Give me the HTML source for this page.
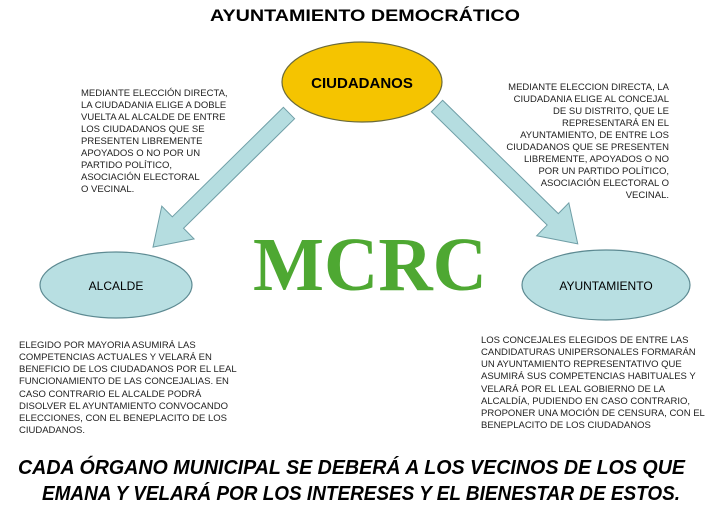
<!DOCTYPE html>
<html><head><meta charset="utf-8"><style>
html,body{margin:0;padding:0;background:#fff;}
svg{display:block;font-family:"Liberation Sans",Arial,sans-serif;}
</style></head><body>
<svg width="720" height="506" viewBox="0 0 720 506" xmlns="http://www.w3.org/2000/svg">
<text x="365" y="21" font-size="17" font-weight="bold" text-anchor="middle" fill="#000" textLength="310" lengthAdjust="spacingAndGlyphs">AYUNTAMIENTO DEMOCRÁTICO</text>

<!-- arrows -->
<g transform="translate(289,113) rotate(135.4)">
<polygon points="0,-8 156,-8 156,-23 191,0 156,23 156,8 0,8" fill="#b5dde0" stroke="#6f9ea6" stroke-width="1"/>
</g>
<g transform="translate(437,106) rotate(44.4)">
<polygon points="0,-8 162,-8 162,-23 197,0 162,23 162,8 0,8" fill="#b5dde0" stroke="#6f9ea6" stroke-width="1"/>
</g>

<ellipse cx="362" cy="82" rx="80" ry="40" fill="#f5c400" stroke="#6a6a3a" stroke-width="1.2"/>
<text x="362" y="88" font-size="15" font-weight="bold" text-anchor="middle">CIUDADANOS</text>

<ellipse cx="116" cy="285" rx="76" ry="33" fill="#b8dfe2" stroke="#5d8a92" stroke-width="1.2"/>
<text x="116" y="290" font-size="12" text-anchor="middle">ALCALDE</text>

<ellipse cx="606" cy="285" rx="84" ry="35" fill="#b8dfe2" stroke="#5d8a92" stroke-width="1.2"/>
<text x="606" y="290" font-size="12" text-anchor="middle">AYUNTAMIENTO</text>

<text x="370" y="290" font-family="'Liberation Serif',serif" font-size="76" font-weight="bold" fill="#4ea832" text-anchor="middle" textLength="234" lengthAdjust="spacingAndGlyphs">MCRC</text>

<g font-size="9.5" fill="#222">
<text x="81" y="96">MEDIANTE ELECCIÓN DIRECTA,</text>
<text x="81" y="108">LA CIUDADANIA ELIGE A  DOBLE</text>
<text x="81" y="120">VUELTA AL ALCALDE DE ENTRE</text>
<text x="81" y="132">LOS CIUDADANOS QUE SE</text>
<text x="81" y="144">PRESENTEN LIBREMENTE</text>
<text x="81" y="156">APOYADOS O NO POR UN</text>
<text x="81" y="168">PARTIDO POLÍTICO,</text>
<text x="81" y="180">ASOCIACIÓN ELECTORAL</text>
<text x="81" y="192">O VECINAL.</text>
</g>
<g font-size="9.5" fill="#222" text-anchor="end">
<text x="669" y="90">MEDIANTE ELECCION DIRECTA, LA</text>
<text x="669" y="102">CIUDADANIA ELIGE AL CONCEJAL</text>
<text x="669" y="114">DE SU DISTRITO, QUE LE</text>
<text x="669" y="126">REPRESENTARÁ EN EL</text>
<text x="669" y="138">AYUNTAMIENTO, DE ENTRE LOS</text>
<text x="669" y="150">CIUDADANOS QUE SE PRESENTEN</text>
<text x="669" y="162">LIBREMENTE, APOYADOS O NO</text>
<text x="669" y="174">POR UN PARTIDO POLÍTICO,</text>
<text x="669" y="186">ASOCIACIÓN ELECTORAL O</text>
<text x="669" y="198">VECINAL.</text>
</g>
<g font-size="9.5" fill="#222">
<text x="19" y="348">ELEGIDO POR MAYORIA ASUMIRÁ LAS</text>
<text x="19" y="360">COMPETENCIAS ACTUALES Y VELARÁ EN</text>
<text x="19" y="372">BENEFICIO DE LOS CIUDADANOS POR EL LEAL</text>
<text x="19" y="384">FUNCIONAMIENTO DE LAS CONCEJALIAS. EN</text>
<text x="19" y="397">CASO CONTRARIO EL ALCALDE PODRÁ</text>
<text x="19" y="409">DISOLVER EL AYUNTAMIENTO CONVOCANDO</text>
<text x="19" y="421">ELECCIONES, CON EL BENEPLACITO DE LOS</text>
<text x="19" y="433">CIUDADANOS.</text>
</g>
<g font-size="9.5" fill="#222">
<text x="481" y="343">LOS CONCEJALES ELEGIDOS DE ENTRE LAS</text>
<text x="481" y="355">CANDIDATURAS UNIPERSONALES FORMARÁN</text>
<text x="481" y="367">UN AYUNTAMIENTO REPRESENTATIVO QUE</text>
<text x="481" y="379">ASUMIRÁ SUS COMPETENCIAS HABITUALES Y</text>
<text x="481" y="392">VELARÁ POR EL LEAL GOBIERNO DE LA</text>
<text x="481" y="404">ALCALDÍA, PUDIENDO EN CASO CONTRARIO,</text>
<text x="481" y="416">PROPONER UNA MOCIÓN DE CENSURA, CON EL</text>
<text x="481" y="428">BENEPLACITO DE LOS CIUDADANOS</text>
</g>
<g font-size="20" font-weight="bold" font-style="italic" fill="#000">
<text x="18" y="474" textLength="667" lengthAdjust="spacingAndGlyphs">CADA ÓRGANO MUNICIPAL SE DEBERÁ A LOS VECINOS DE LOS QUE</text>
<text x="42" y="500" textLength="638" lengthAdjust="spacingAndGlyphs">EMANA Y VELARÁ POR LOS INTERESES Y EL BIENESTAR DE ESTOS.</text>
</g>
</svg>
</body></html>
